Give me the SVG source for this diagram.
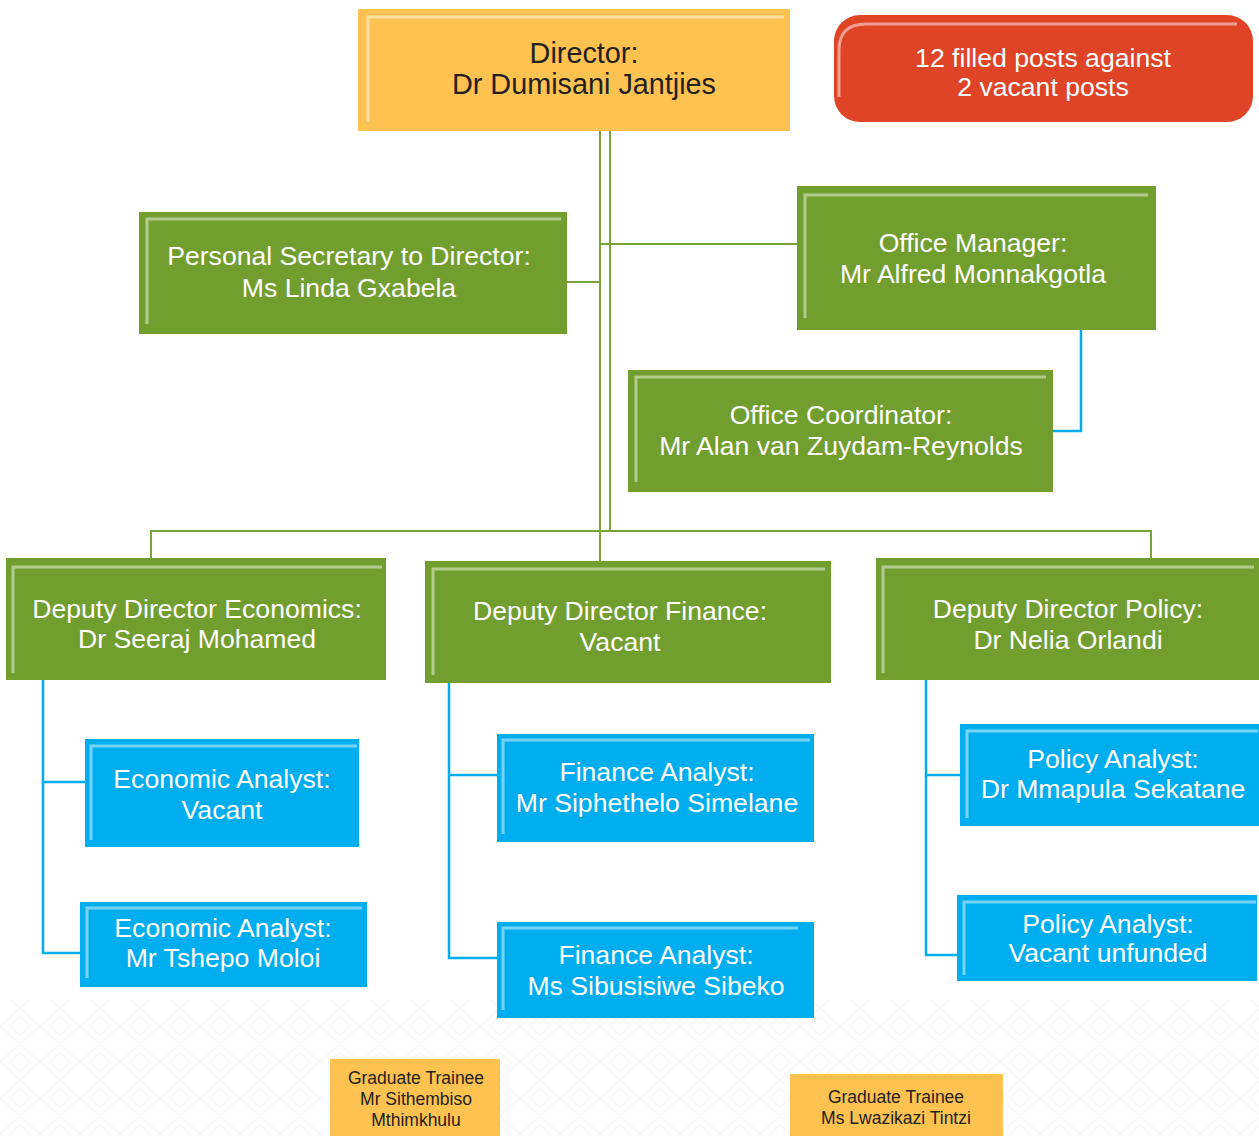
<svg xmlns="http://www.w3.org/2000/svg" width="1259" height="1136" viewBox="0 0 1259 1136">
  <style>
    .t { font-family: "Liberation Sans", Arial, sans-serif; text-anchor: middle; }
    .w { fill: #ffffff; font-size: 26.6px; }
    .d { fill: #231f20; }
    .green { fill: #729e2f; }
    .blue { fill: #00aeef; }
    .gold { fill: #fec250; }
    .hl { fill: none; stroke-width: 3; }
    .hlg { stroke: #b3cb8f; }
    .hlb { stroke: #78d4f7; }
    .hly { stroke: #ffdfa3; }
    .cg { fill: none; stroke: #78a33a; stroke-width: 2; }
    .cb { fill: none; stroke: #00aeef; stroke-width: 2.5; }
  </style>
  <defs>
    <pattern id="weave" width="40" height="36" patternUnits="userSpaceOnUse">
      <path d="M0,18 L20,0 L40,18 L20,36 Z M10,18 L20,9 L30,18 L20,27 Z" fill="none" stroke="#f7f7f7" stroke-width="2"/>
    </pattern>
  </defs>

  <rect width="1259" height="1136" fill="#ffffff"/>
  <rect x="0" y="1000" width="1259" height="136" fill="url(#weave)" opacity="0.7"/>

  <!-- connectors -->
  <g id="connectors">
    <path class="cg" d="M600,131 V561 M610,131 V531"/>
    <path class="cg" d="M600,244 H797 M567,282 H600"/>
    <path class="cg" d="M151,558 V531 H1151 V558"/>
    <path class="cb" d="M1081,330 V431 H1053"/>
    <path class="cb" d="M43,680 V953 H80 M43,782 H86"/>
    <path class="cb" d="M449,683 V958 H498 M449,775 H498"/>
    <path class="cb" d="M926,680 V955 H957 M926,775 H960"/>
  </g>

  <!-- director -->
  <g id="director">
    <rect class="gold" x="358" y="9" width="432" height="122"/>
    <path class="hl hly" d="M368,122 V17 H784"/>
    <text class="t d" font-size="28.8" x="584" y="63">Director:</text>
    <text class="t d" font-size="28.8" x="584" y="94">Dr Dumisani Jantjies</text>
  </g>

  <!-- posts summary -->
  <g id="posts-summary">
    <rect x="834" y="15" width="419" height="107" rx="26" fill="#e04427"/>
    <path fill="none" stroke="#f0a090" stroke-width="3" d="M839,97 V50 Q839,24 866,24 H1237"/>
    <text class="t w" font-size="28.5" x="1043" y="67">12 filled posts against</text>
    <text class="t w" font-size="28.5" x="1043" y="96">2 vacant posts</text>
  </g>

  <g id="personal-secretary">
    <rect class="green" x="139" y="212" width="428" height="122"/>
    <path class="hl hlg" d="M147,324 V219 H561"/>
    <text class="t w" font-size="27.4" x="349" y="265">Personal Secretary to Director:</text>
    <text class="t w" font-size="27.4" x="349" y="297">Ms Linda Gxabela</text>
  </g>

  <g id="office-manager">
    <rect class="green" x="797" y="186" width="359" height="144"/>
    <path class="hl hlg" d="M805,318 V195 H1148"/>
    <text class="t w" x="973" y="252">Office Manager:</text>
    <text class="t w" x="973" y="283">Mr Alfred Monnakgotla</text>
  </g>

  <g id="office-coordinator">
    <rect class="green" x="628" y="370" width="425" height="122"/>
    <path class="hl hlg" d="M636,482 V377 H1046"/>
    <text class="t w" x="841" y="424">Office Coordinator:</text>
    <text class="t w" x="841" y="455">Mr Alan van Zuydam-Reynolds</text>
  </g>

  <g id="deputy-economics">
    <rect class="green" x="6" y="558" width="380" height="122"/>
    <path class="hl hlg" d="M13,673 V567 H382"/>
    <text class="t w" x="197" y="618">Deputy Director Economics:</text>
    <text class="t w" x="197" y="648">Dr Seeraj Mohamed</text>
  </g>

  <g id="deputy-finance">
    <rect class="green" x="425" y="561" width="406" height="122"/>
    <path class="hl hlg" d="M433,675 V569 H825"/>
    <text class="t w" x="620" y="620">Deputy Director Finance:</text>
    <text class="t w" x="620" y="651">Vacant</text>
  </g>

  <g id="deputy-policy">
    <rect class="green" x="876" y="558" width="383" height="122"/>
    <path class="hl hlg" d="M883,673 V567 H1254"/>
    <text class="t w" x="1068" y="618">Deputy Director Policy:</text>
    <text class="t w" x="1068" y="649">Dr Nelia Orlandi</text>
  </g>

  <g id="economic-analyst-vacant">
    <rect class="blue" x="85" y="739" width="274" height="108"/>
    <path class="hl hlb" d="M91,840 V746 H357"/>
    <text class="t w" x="222" y="788">Economic Analyst:</text>
    <text class="t w" x="222" y="819">Vacant</text>
  </g>

  <g id="economic-analyst-moloi">
    <rect class="blue" x="80" y="902" width="287" height="85"/>
    <path class="hl hlb" d="M87,978 V908 H362"/>
    <text class="t w" x="223" y="937">Economic Analyst:</text>
    <text class="t w" x="223" y="967">Mr Tshepo Moloi</text>
  </g>

  <g id="finance-analyst-simelane">
    <rect class="blue" x="497" y="734" width="317" height="108"/>
    <path class="hl hlb" d="M503,834 V740 H810"/>
    <text class="t w" x="657" y="781">Finance Analyst:</text>
    <text class="t w" x="657" y="812">Mr Siphethelo Simelane</text>
  </g>

  <g id="finance-analyst-sibeko">
    <rect class="blue" x="497" y="922" width="317" height="96"/>
    <path class="hl hlb" d="M503,1010 V928 H798"/>
    <text class="t w" x="656" y="964">Finance Analyst:</text>
    <text class="t w" x="656" y="995">Ms Sibusisiwe Sibeko</text>
  </g>

  <g id="policy-analyst-sekatane">
    <rect class="blue" x="960" y="724" width="299" height="102"/>
    <path class="hl hlb" d="M967,818 V731 H1258"/>
    <text class="t w" x="1113" y="768">Policy Analyst:</text>
    <text class="t w" x="1113" y="798">Dr Mmapula Sekatane</text>
  </g>

  <g id="policy-analyst-vacant">
    <rect class="blue" x="957" y="895" width="300" height="86"/>
    <path class="hl hlb" d="M964,975 V902 H1256"/>
    <text class="t w" x="1108" y="933">Policy Analyst:</text>
    <text class="t w" x="1108" y="962">Vacant unfunded</text>
  </g>

  <g id="graduate-trainee-mthimkhulu">
    <rect class="gold" x="330" y="1059" width="170" height="77"/>
    <text class="t d" font-size="17.5" x="416" y="1084">Graduate Trainee</text>
    <text class="t d" font-size="17.5" x="416" y="1105">Mr Sithembiso</text>
    <text class="t d" font-size="17.5" x="416" y="1126">Mthimkhulu</text>
  </g>

  <g id="graduate-trainee-tintzi">
    <rect class="gold" x="790" y="1074" width="213" height="62"/>
    <text class="t d" font-size="17.5" x="896" y="1103">Graduate Trainee</text>
    <text class="t d" font-size="17.5" x="896" y="1124">Ms Lwazikazi Tintzi</text>
  </g>
</svg>
